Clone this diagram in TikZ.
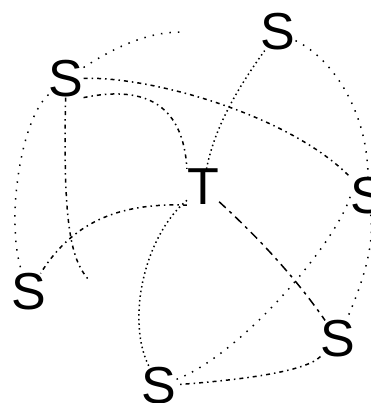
\documentclass[tikz,border=0pt]{standalone}
\usepackage{fontspec}
\setmainfont{Liberation Sans}
\usepackage{xcolor}
\definecolor{ink}{HTML}{000000}
\tikzset{
  letter/.style={inner sep=0pt,text=ink,font=\fontsize{52}{52}\selectfont},
  ringline/.style={draw=ink,line width=1.5pt,dash pattern=on 1.5pt off 7pt},
  dotline/.style={draw=ink,line width=1.5pt,dash pattern=on 1.5pt off 3.2pt},
  dashdotline/.style={draw=ink,line width=1.5pt,dash pattern=on 4pt off 4pt on 1.5pt off 4pt},
  dashline/.style={draw=ink,line width=1.5pt,dash pattern=on 9pt off 5pt on 3pt off 5pt},
}

\begin{document}
\begin{tikzpicture}[x=1pt,y=-1pt]
  \useasboundingbox (0,0) rectangle (370,403);
  \node[letter] (s1) at (66,79) {S};
  \node[letter] (s2) at (278,32) {S};
  \node[letter] (t) at (203,187) {T};
  \node[letter] (s3) at (368,196) {S};
  \node[letter] (s4) at (29,292) {S};
  \node[letter] (s5) at (338,339) {S};
  \node[letter] (s6) at (159,386) {S};
  \coordinate (topend) at (181,32);
  \coordinate (vend) at (88,279);
  % outer ring
  \draw[ringline] (s1) .. controls (118,45) and (150,32) .. (topend);
  \draw[ringline] (s2) .. controls (335,60) and (368,115) .. (s3);
  \draw[ringline] (s3) .. controls (375,245) and (362,285) .. (s5);
  \draw[dashdotline] (s5) .. controls (305,372) and (240,380) .. (s6);
  \draw[ringline] (s6) .. controls (240,355) and (335,245) .. (s3.west);
  \draw[ringline] (s1) .. controls (20,120) and (5,225) .. (s4);
  \draw[dashdotline] (s1) .. controls (63,220) and (70,258) .. (vend);
  \draw[dashdotline] (s1) .. controls (150,76) and (290,115) .. (s3.north west);
  % spokes from T
  \draw[dashdotline] (s1.south east) .. controls (140,86) and (183,100) .. (t.north west);
  \draw[dotline] (t) .. controls (215,125) and (240,85) .. (s2);
  \draw[dashdotline] (t.south west) .. controls (125,203) and (75,218) .. (s4);
  \draw[dotline] (t) .. controls (145,235) and (125,320) .. (s6);
  \draw[dashline] (t) .. controls (250,230) and (290,270) .. (s5);
\end{tikzpicture}
\end{document}
